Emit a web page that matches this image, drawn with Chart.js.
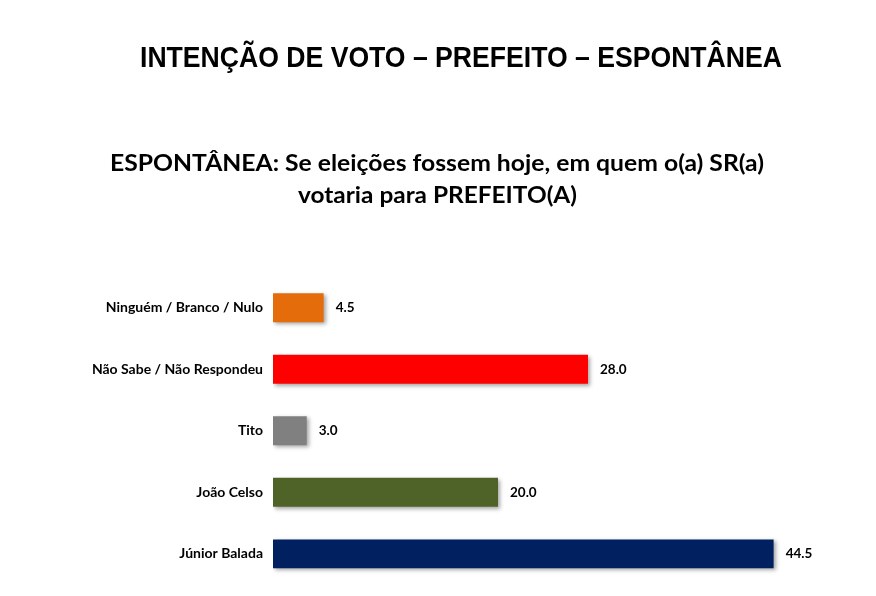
<!DOCTYPE html>
<html>
<head>
<meta charset="utf-8">
<script src="https://cdn.jsdelivr.net/npm/chart.js@4.4.1/dist/chart.umd.min.js"></script>
<style>
  html, body { margin: 0; padding: 0; background: #fff; width: 876px; height: 596px; overflow: hidden; }
  #wrap { position: absolute; left: 0; top: 0; width: 876px; height: 603px; }
  .t { position: absolute; white-space: nowrap; color: #000; font-weight: bold; transform-origin: 0 0; line-height: 1; }
  #title { font-family: "Liberation Sans Narrow", "Liberation Sans", Arial, sans-serif; font-size: 30px; }
  .sub { font-family: Lato, "Open Sans", sans-serif; font-size: 23px; }
</style>
</head>
<body>
<div id="wrap"><canvas id="c" width="876" height="603" style="width:876px;height:603px;display:block"></canvas></div>
<div class="t" id="title">INTENÇÃO DE VOTO – PREFEITO – ESPONTÂNEA</div>
<div class="t sub" id="sub1">ESPONTÂNEA: Se eleições fossem hoje, em quem o(a) SR(a)</div>
<div class="t sub" id="sub2">votaria para PREFEITO(A)</div>
<script>
const categories = ["Ninguém / Branco / Nulo", "Não Sabe / Não Respondeu", "Tito", "João Celso", "Júnior Balada"];
const values = [4.5, 28.0, 3.0, 20.0, 44.5];
const barColors = ["#E46C0A", "#FF0000", "#808080", "#4F6228", "#002060"];

// fit the HTML titles to their measured extents in the reference
function fit(id, left, width, top) {
  const el = document.getElementById(id);
  const w = el.getBoundingClientRect().width;
  const s = width / w;
  el.style.left = left + "px";
  el.style.top = top + "px";
  el.style.transform = "scaleX(" + s + ")";
}
fit("title", 140, 642, 42);
fit("sub1", 110, 654, 151);
fit("sub2", 298, 279, 183);

const shadowPlugin = {
  id: "barShadow",
  beforeDatasetDraw(chart) {
    const ctx = chart.ctx;
    ctx.save();
    ctx.shadowColor = "rgba(0,0,0,0.35)";
    ctx.shadowBlur = 4;
    ctx.shadowOffsetX = 2;
    ctx.shadowOffsetY = 2;
  },
  afterDatasetDraw(chart) {
    chart.ctx.restore();
  }
};

const valueLabels = {
  id: "valueLabels",
  afterDatasetsDraw(chart) {
    const ctx = chart.ctx;
    const meta = chart.getDatasetMeta(0);
    ctx.save();
    ctx.font = "bold 13.5px Lato, 'Open Sans', sans-serif";
    ctx.fillStyle = "#000";
    ctx.textAlign = "left";
    ctx.textBaseline = "middle";
    meta.data.forEach((bar, i) => {
      ctx.fillText(values[i].toFixed(1), bar.x + 12, bar.y);
    });
    ctx.restore();
  }
};

new Chart(document.getElementById("c"), {
  type: "bar",
  data: {
    labels: categories,
    datasets: [{
      data: values,
      backgroundColor: barColors,
      borderWidth: 0,
      barPercentage: 0.94,
      categoryPercentage: 0.5
    }]
  },
  options: {
    indexAxis: "y",
    responsive: false,
    animation: false,
    events: [],
    layout: { padding: { top: 277, bottom: 3, right: 40.5, left: 0 } },
    plugins: { legend: { display: false }, tooltip: { enabled: false }, title: { display: false } },
    scales: {
      x: {
        min: 0, max: 50,
        display: false,
        grid: { display: false }
      },
      y: {
        grid: { display: false, drawTicks: false },
        border: { display: false },
        ticks: {
          color: "#000",
          padding: 10,
          font: { family: "Lato, 'Open Sans', sans-serif", size: 14, weight: "bold" }
        },
        afterFit(scale) { scale.width = 273; }
      }
    }
  },
  plugins: [shadowPlugin, valueLabels]
});
</script>
</body>
</html>
